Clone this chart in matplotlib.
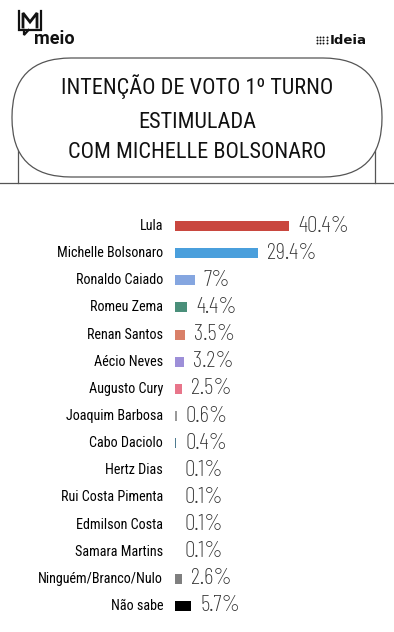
import matplotlib
matplotlib.use("Agg")
import matplotlib.pyplot as plt
from matplotlib.patches import FancyBboxPatch

names = ["Lula", "Michelle Bolsonaro", "Ronaldo Caiado", "Romeu Zema", "Renan Santos",
         "Aécio Neves", "Augusto Cury", "Joaquim Barbosa", "Cabo Daciolo", "Hertz Dias",
         "Rui Costa Pimenta", "Edmilson Costa", "Samara Martins", "Ninguém/Branco/Nulo", "Não sabe"]
values = [40.4, 29.4, 7, 4.4, 3.5, 3.2, 2.5, 0.6, 0.4, 0.1, 0.1, 0.1, 0.1, 2.6, 5.7]
value_labels = ["40.4%", "29.4%", "7%", "4.4%", "3.5%", "3.2%", "2.5%", "0.6%", "0.4%",
                "0.1%", "0.1%", "0.1%", "0.1%", "2.6%", "5.7%"]
colors = ["#c9473f", "#4a9fdc", "#85a6e0", "#4a8f7a", "#d98068", "#9d8fd8", "#e8758a",
          "#9a9a9a", "#4d7a8f", "#cfcfcf", "#cfcfcf", "#cfcfcf", "#cfcfcf", "#7f7f7f", "#000000"]
title_lines = ["INTENÇÃO DE VOTO 1º TURNO", "ESTIMULADA", "COM MICHELLE BOLSONARO"]

W, H = 394, 632
fig = plt.figure(figsize=(W / 100, H / 100), dpi=100)
fig.patch.set_facecolor("white")

COND = ["Roboto Condensed", "DejaVu Sans"]
THIN = ["Barlow Condensed", "Roboto Condensed", "DejaVu Sans"]

# decoration overlay in pixel coords
ov = fig.add_axes([0, 0, 1, 1])
ov.set_xlim(0, W)
ov.set_ylim(H, 0)
ov.axis("off")

# header frame
ov.plot([0, W], [183, 183], color="#555555", lw=0.9)
ov.plot([18, 18], [140, 183], color="#555555", lw=0.9)
ov.plot([375, 375], [140, 183], color="#555555", lw=0.9)
pill = FancyBboxPatch((12, 58), 370, 119,
                      boxstyle="round,pad=0,rounding_size=59",
                      fc="white", ec="#555555", lw=0.9, zorder=3)
ov.add_patch(pill)
for txt, y in zip(title_lines, [87, 122, 153]):
    ov.text(197, y, txt, ha="center", va="center", fontsize=16,
            family=COND, fontstretch="condensed", fontweight=400,
            color="#111111", zorder=4)

# logos
ov.plot([19, 19, 41, 41], [11, 30, 30, 11], color="#111111", lw=1.6,
        solid_joinstyle="miter")
ov.plot([24, 24, 28.5], [30, 35, 30], color="#111111", lw=1.6, solid_joinstyle="miter")
ov.plot([23, 23, 30, 37, 37], [27, 13, 22, 13, 27], color="#111111", lw=2.0,
        solid_joinstyle="miter")
ov.text(34.5, 43.5, "meio", ha="left", va="baseline", fontsize=13, fontweight="bold",
        family=["Roboto", "DejaVu Sans"], color="#111111")
for i in range(4):
    for j in range(3):
        ov.plot(317 + i * 3.2, 37 + j * 3.0, "o", ms=1.4, color="#111111", mew=0)
ov.text(330, 44, "Ideia", ha="left", va="baseline", fontsize=9.5, fontweight="bold",
        family=["DejaVu Sans"], color="#111111")

# bar chart
scale = 2.82  # px per percent
top_px, bot_px = 212.5, 619.5
ax = fig.add_axes([175 / W, (H - bot_px) / H, (W - 175) / W, (bot_px - top_px) / H])
ax.set_xlim(0, (W - 175) / scale)
ax.set_ylim(len(names) - 0.5, -0.5)
ax.axis("off")
ypos = list(range(len(names)))
ax.barh(ypos, values, height=0.37, color=colors, zorder=2)
for y, v, name, lab in zip(ypos, values, names, value_labels):
    ax.annotate(name, (0, y), xytext=(-8.6, 0), textcoords="offset points",
                ha="right", va="center", fontsize=10.2, family=COND,
                fontstretch="condensed", fontweight=400, color="#000000")
    ax.annotate(lab, (v, y), xytext=(6.5, 0), textcoords="offset points",
                ha="left", va="center", fontsize=16.8, family=THIN,
                fontstretch="condensed", fontweight=275, color="#333333")

fig.savefig("out.png", dpi=100, facecolor="white")
